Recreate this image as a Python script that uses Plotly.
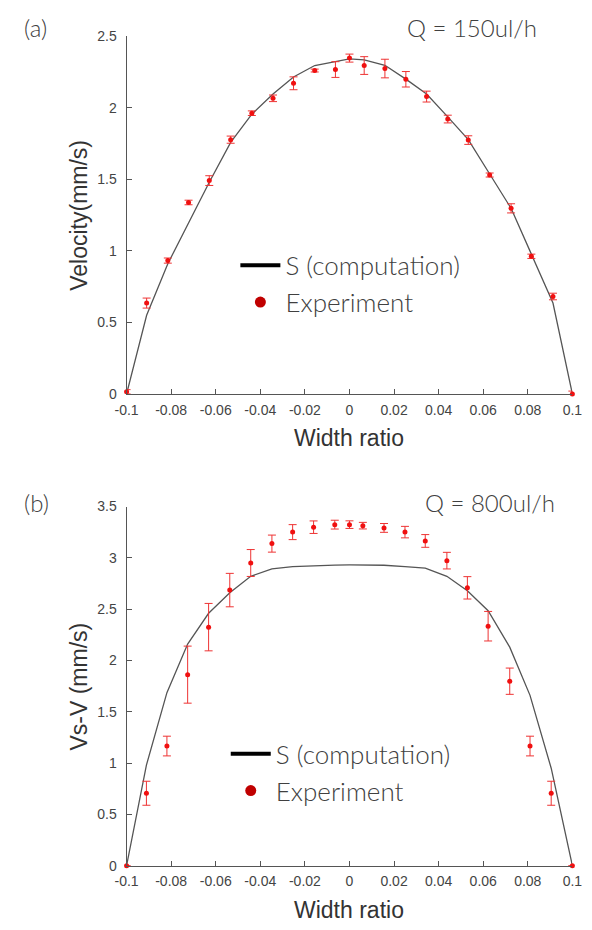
import plotly.graph_objects as go

# ---------------- data ----------------
# panel (a) Q = 150ul/h
xa = [-0.1, -0.091, -0.0815, -0.0722, -0.0629, -0.0533, -0.0438, -0.0343, -0.0251, -0.0156, -0.0063, 0.0,
      0.0066, 0.0159, 0.0253, 0.0346, 0.0441, 0.0533, 0.0629, 0.0725, 0.0816, 0.0913, 0.1]
ya_exp = [0.015, 0.635, 0.932, 1.338, 1.491, 1.777, 1.962, 2.066, 2.171, 2.260, 2.267, 2.347,
          2.295, 2.274, 2.199, 2.078, 1.921, 1.774, 1.530, 1.297, 0.962, 0.681, 0.0]
ea_exp = [0.015, 0.035, 0.018, 0.016, 0.034, 0.025, 0.016, 0.023, 0.045, 0.010, 0.055, 0.028,
          0.062, 0.065, 0.054, 0.038, 0.027, 0.030, 0.014, 0.032, 0.015, 0.023, 0.020]
ya_comp = [0.0, 0.55, 0.91, 1.20, 1.479, 1.758, 1.955, 2.096, 2.215, 2.295, 2.325, 2.342,
           2.335, 2.297, 2.200, 2.096, 1.936, 1.777, 1.537, 1.297, 0.977, 0.635, 0.0]

# panel (b) Q = 800ul/h
xb = [-0.1, -0.0911, -0.0819, -0.0726, -0.0632, -0.0537, -0.0443, -0.0348, -0.0255, -0.0161, -0.0066, 0.0,
      0.006, 0.0155, 0.0249, 0.034, 0.0437, 0.0529, 0.0622, 0.0719, 0.081, 0.0905, 0.1]
yb_exp = [0.0, 0.706, 1.166, 1.862, 2.325, 2.686, 2.950, 3.139, 3.251, 3.299, 3.324, 3.324,
          3.314, 3.292, 3.251, 3.165, 2.973, 2.708, 2.334, 1.798, 1.166, 0.706, 0.0]
eb_exp = [0.0, 0.117, 0.096, 0.278, 0.231, 0.163, 0.131, 0.083, 0.073, 0.061, 0.043, 0.037,
          0.032, 0.043, 0.056, 0.062, 0.081, 0.109, 0.144, 0.128, 0.096, 0.117, 0.0]
yb_comp = [0.0, 0.98, 1.686, 2.16, 2.46, 2.66, 2.82, 2.893, 2.915, 2.925, 2.930, 2.931,
           2.930, 2.928, 2.915, 2.900, 2.820, 2.680, 2.485, 2.130, 1.660, 0.950, 0.0]

xtick_vals = [-0.1, -0.08, -0.06, -0.04, -0.02, 0, 0.02, 0.04, 0.06, 0.08, 0.1]
xtick_text = ["-0.1", "-0.08", "-0.06", "-0.04", "-0.02", "0", "0.02", "0.04", "0.06", "0.08", "0.1"]
ya_ticks = [0, 0.5, 1, 1.5, 2, 2.5]
ya_text = ["0", "0.5", "1", "1.5", "2", "2.5"]
yb_ticks = [0, 0.5, 1, 1.5, 2, 2.5, 3, 3.5]
yb_text = ["0", "0.5", "1", "1.5", "2", "2.5", "3", "3.5"]

names = ["S (computation)", "Experiment"]
panel_labels = ["(a)", "(b)"]
q_labels = ["Q = 150ul/h", "Q = 800ul/h"]
y_titles = ["Velocity(mm/s)", "Vs-V (mm/s)"]
x_title = "Width ratio"

# ---------------- layout geometry (pixels) ----------------
W, H = 592, 930
def px(x):
    return x / W
def py(y):
    return 1 - y / H

LINE_C = "#555555"
RED = "#f01010"
ERR = "#ee3333"
TXT = "#404040"
TICKF = dict(family="Arial, Liberation Sans, sans-serif", size=14, color="#444444")

fig = go.Figure()

# computation lines
fig.add_trace(go.Scatter(x=xa, y=ya_comp, mode="lines", line=dict(color="#555555", width=1.3),
                         showlegend=False, xaxis="x", yaxis="y", hoverinfo="skip"))
fig.add_trace(go.Scatter(x=xb, y=yb_comp, mode="lines", line=dict(color="#555555", width=1.3),
                         showlegend=False, xaxis="x2", yaxis="y2", hoverinfo="skip"))
# experiments
fig.add_trace(go.Scatter(x=xa, y=ya_exp, mode="markers", marker=dict(color=RED, size=5),
                         error_y=dict(type="data", array=ea_exp, color=ERR, thickness=1, width=4),
                         showlegend=False, xaxis="x", yaxis="y", cliponaxis=False))
fig.add_trace(go.Scatter(x=xb, y=yb_exp, mode="markers", marker=dict(color=RED, size=5),
                         error_y=dict(type="data", array=eb_exp, color=ERR, thickness=1, width=4),
                         showlegend=False, xaxis="x2", yaxis="y2", cliponaxis=False))

# legend entries
for lg, xax, yax in [("legend", "x", "y"), ("legend2", "x2", "y2")]:
    fig.add_trace(go.Scatter(x=[None], y=[None], mode="lines", line=dict(color="black", width=4),
                             name=names[0], legend=lg, legendgroup=lg + "a", xaxis=xax, yaxis=yax))
    fig.add_trace(go.Scatter(x=[None], y=[None], mode="markers", marker=dict(color="#c00000", size=11),
                             name=names[1], legend=lg, legendgroup=lg + "b", xaxis=xax, yaxis=yax))

xdom = [px(119), px(582)]
axis_common = dict(showline=True, linecolor=LINE_C, linewidth=1, ticks="inside", ticklen=5,
                   tickcolor=LINE_C, tickwidth=1, showgrid=False, zeroline=False, tickfont=TICKF)

leg_common = dict(font=dict(family="Lato, sans-serif", size=26, color=TXT, weight=300),
                  bgcolor="rgba(0,0,0,0)", borderwidth=0, itemwidth=40, tracegroupgap=0,
                  xanchor="left", yanchor="top", itemclick=False)

fig.update_layout(
    width=W, height=H, margin=dict(l=0, r=0, t=0, b=0),
    paper_bgcolor="white", plot_bgcolor="white",
    xaxis=dict(domain=xdom, range=[-0.1, 0.1], tickvals=xtick_vals, ticktext=xtick_text,
               anchor="y", ticklabelstandoff=3, **axis_common),
    yaxis=dict(domain=[py(392.7), py(28.7)], range=[0, 2.5], tickvals=ya_ticks, ticktext=ya_text,
               anchor="x", ticklabelstandoff=6, **axis_common),
    xaxis2=dict(domain=xdom, range=[-0.1, 0.1], tickvals=xtick_vals, ticktext=xtick_text,
                anchor="y2", ticklabelstandoff=3, **axis_common),
    yaxis2=dict(domain=[py(872.7), py(507.3)], range=[0, 3.5], tickvals=yb_ticks, ticktext=yb_text,
                anchor="x2", ticklabelstandoff=6, **axis_common),
    legend=dict(x=px(232), y=py(238), **leg_common),
    legend2=dict(x=px(222), y=py(735), **leg_common),
    showlegend=True,
)

ann = []
title_font = dict(family="Lato, sans-serif", size=24, color=TXT, weight=300)
axis_font = dict(family="Arial, Liberation Sans, sans-serif", size=23, color="#333333")
for i, (yc_lab, xq, yc_panel, yc_xt) in enumerate([(20, 408, 211, 438), (503, 427, 690, 918)]):
    ann.append(dict(text=panel_labels[i], x=px(10), y=py(yc_lab), xref="paper", yref="paper",
                    xanchor="left", yanchor="middle", showarrow=False, font=title_font))
    ann.append(dict(text=q_labels[i], x=px(xq), y=py(yc_lab), xref="paper", yref="paper",
                    xanchor="left", yanchor="middle", showarrow=False, font=title_font))
    ann.append(dict(text=y_titles[i], x=px(70), y=py(yc_panel), xref="paper", yref="paper",
                    xanchor="center", yanchor="middle", textangle=-90, showarrow=False, font=axis_font))
    ann.append(dict(text=x_title, x=px(350.5), y=py(yc_xt), xref="paper", yref="paper",
                    xanchor="center", yanchor="middle", showarrow=False, font=axis_font))
fig.update_layout(annotations=ann)

fig.write_html("out.html")
